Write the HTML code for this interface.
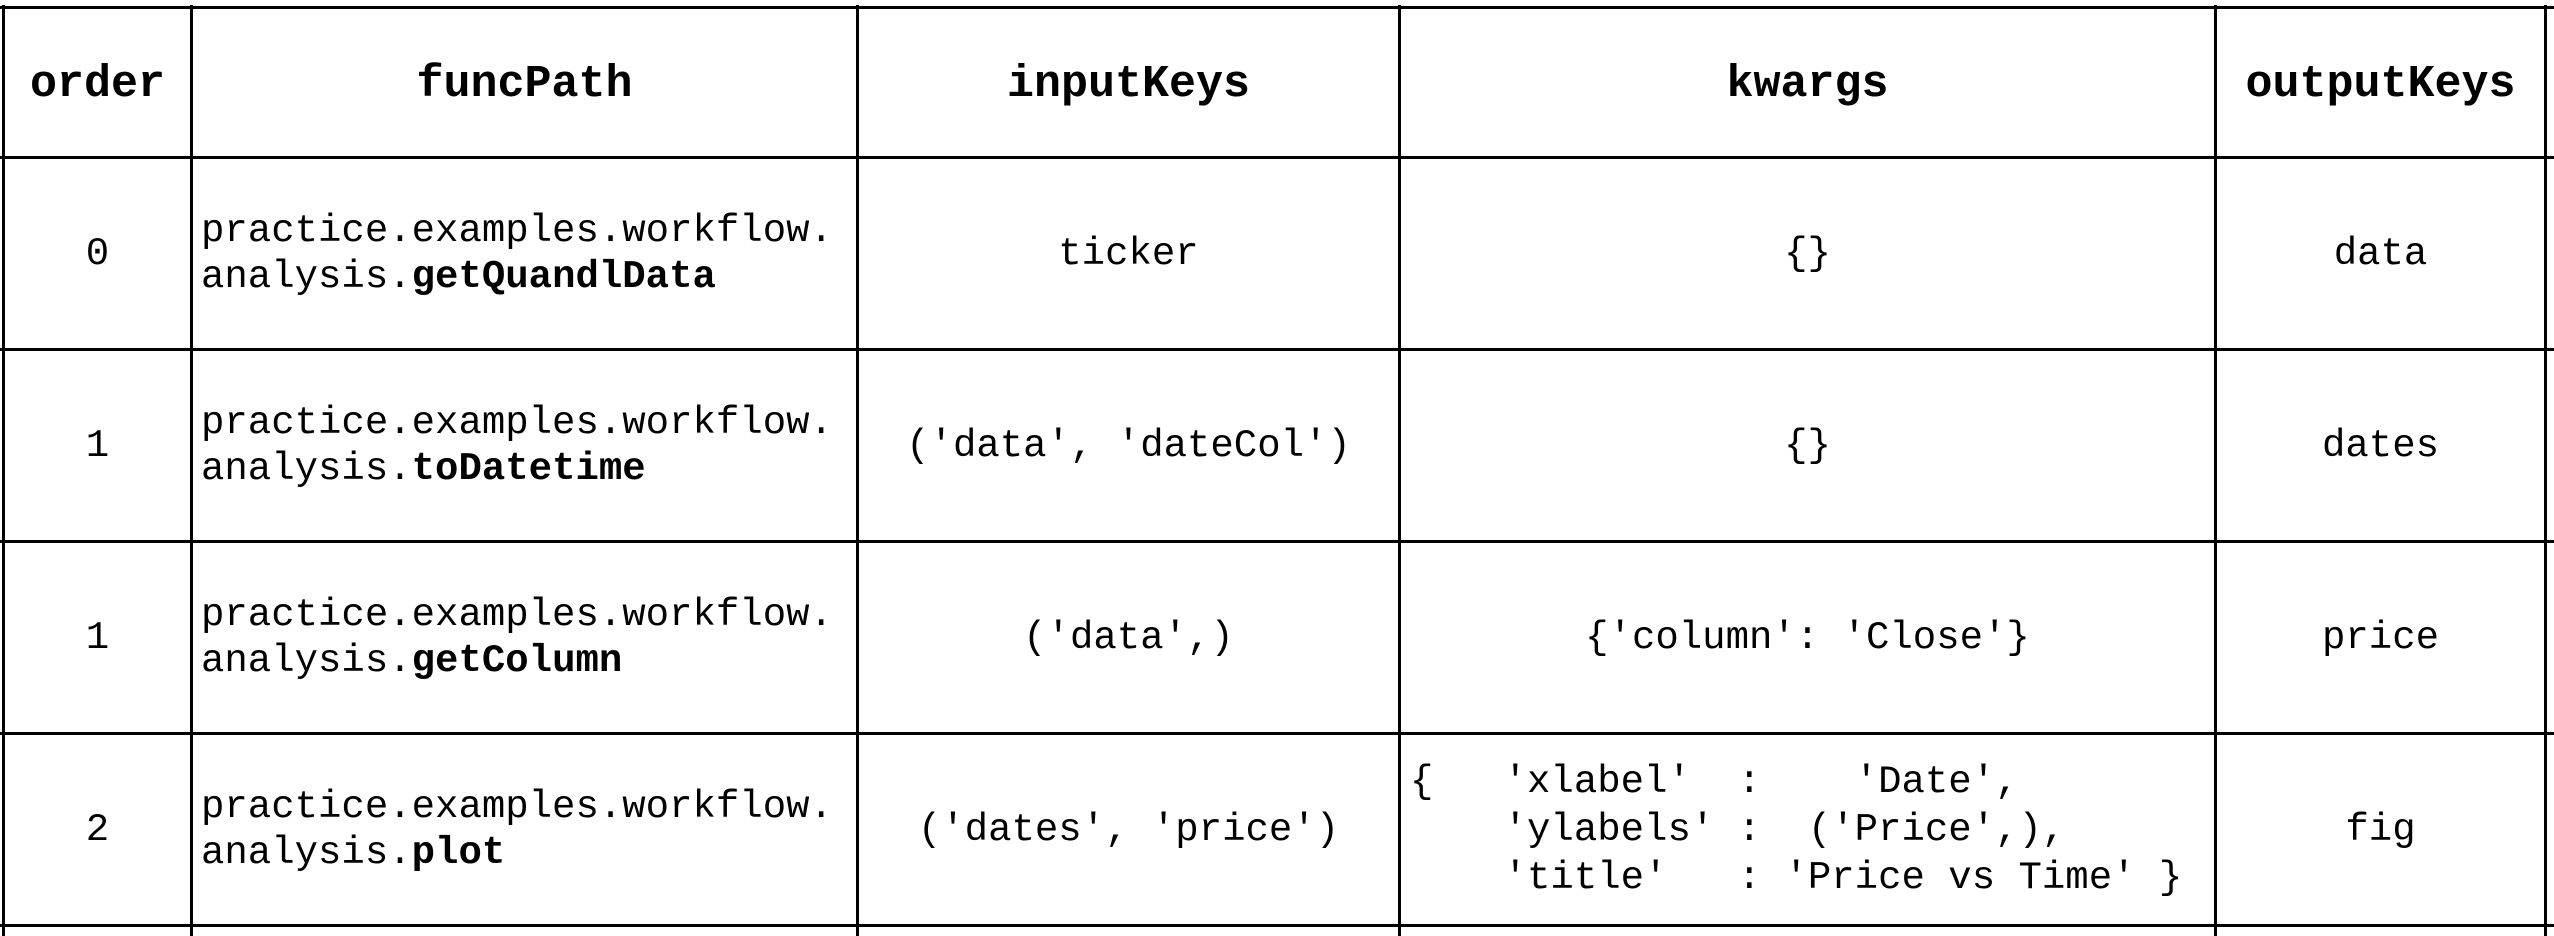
<!DOCTYPE html>
<html><head><meta charset="utf-8"><style>
html,body{margin:0;padding:0;background:#fff;}
body{width:2554px;height:936px;position:relative;overflow:hidden;font-family:"Liberation Mono","DejaVu Sans Mono",monospace;color:#000;}
.h{position:absolute;left:0;width:2554px;height:3px;background:#000;}
.v{position:absolute;top:5px;width:3px;height:931px;background:#000;}
.c{position:absolute;display:flex;align-items:center;justify-content:center;font-size:39px;white-space:pre;}
.l{justify-content:flex-start;padding-left:8px;box-sizing:border-box;}
.hd{font-weight:bold;font-size:45px;padding-top:4px;box-sizing:border-box;}
.fp{line-height:46px;}
.kw{line-height:48px;}
b{font-weight:bold;}
</style></head><body>
<div class="h" style="top:6px"></div>
<div class="h" style="top:156px"></div>
<div class="h" style="top:348px"></div>
<div class="h" style="top:540px"></div>
<div class="h" style="top:732px"></div>
<div class="h" style="top:924px"></div>
<div class="v" style="left:2px"></div>
<div class="v" style="left:190px"></div>
<div class="v" style="left:856px"></div>
<div class="v" style="left:1398px"></div>
<div class="v" style="left:2214px"></div>
<div class="v" style="left:2544px"></div>

<!-- header -->
<div class="c hd" style="left:5px;top:9px;width:185px;height:147px">order</div>
<div class="c hd" style="left:193px;top:9px;width:663px;height:147px">funcPath</div>
<div class="c hd" style="left:859px;top:9px;width:539px;height:147px">inputKeys</div>
<div class="c hd" style="left:1401px;top:9px;width:813px;height:147px">kwargs</div>
<div class="c hd" style="left:2217px;top:9px;width:327px;height:147px">outputKeys</div>

<!-- row 0 -->
<div class="c" style="left:5px;top:159px;width:185px;height:189px">0</div>
<div class="c l fp" style="left:193px;top:159px;width:663px;height:189px"><div>practice.examples.workflow.
analysis.<b>getQuandlData</b></div></div>
<div class="c" style="left:859px;top:159px;width:539px;height:189px">ticker</div>
<div class="c" style="left:1401px;top:159px;width:813px;height:189px">{}</div>
<div class="c" style="left:2217px;top:159px;width:327px;height:189px">data</div>

<!-- row 1 -->
<div class="c" style="left:5px;top:351px;width:185px;height:189px">1</div>
<div class="c l fp" style="left:193px;top:351px;width:663px;height:189px"><div>practice.examples.workflow.
analysis.<b>toDatetime</b></div></div>
<div class="c" style="left:859px;top:351px;width:539px;height:189px">('data', 'dateCol')</div>
<div class="c" style="left:1401px;top:351px;width:813px;height:189px">{}</div>
<div class="c" style="left:2217px;top:351px;width:327px;height:189px">dates</div>

<!-- row 2 -->
<div class="c" style="left:5px;top:543px;width:185px;height:189px">1</div>
<div class="c l fp" style="left:193px;top:543px;width:663px;height:189px"><div>practice.examples.workflow.
analysis.<b>getColumn</b></div></div>
<div class="c" style="left:859px;top:543px;width:539px;height:189px">('data',)</div>
<div class="c" style="left:1401px;top:543px;width:813px;height:189px">{'column': 'Close'}</div>
<div class="c" style="left:2217px;top:543px;width:327px;height:189px">price</div>

<!-- row 3 -->
<div class="c" style="left:5px;top:735px;width:185px;height:189px">2</div>
<div class="c l fp" style="left:193px;top:735px;width:663px;height:189px"><div>practice.examples.workflow.
analysis.<b>plot</b></div></div>
<div class="c" style="left:859px;top:735px;width:539px;height:189px">('dates', 'price')</div>
<div class="c l kw" style="left:1401px;top:735px;width:813px;height:189px;padding-left:9px"><div>{   'xlabel'  :    'Date',
    'ylabels' :  ('Price',),
    'title'   : 'Price vs Time' }</div></div>
<div class="c" style="left:2217px;top:735px;width:327px;height:189px">fig</div>
</body></html>
